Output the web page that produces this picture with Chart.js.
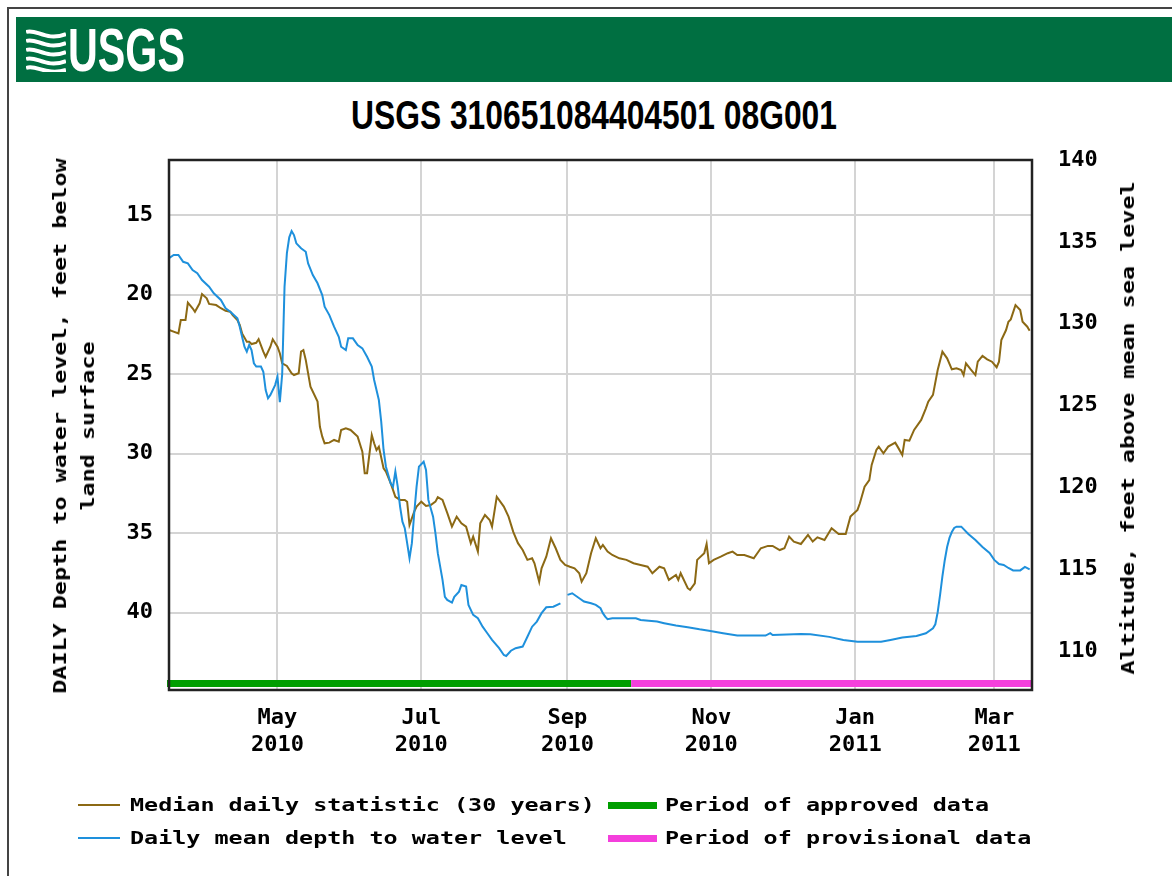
<!DOCTYPE html>
<html>
<head>
<meta charset="utf-8">
<script src="https://cdn.jsdelivr.net/npm/chart.js@4.4.1/dist/chart.umd.min.js"></script>
<style>
  body { margin: 0; background: #fff; width: 1172px; height: 876px; overflow: hidden; position: relative; }
  #frame { position: absolute; left: 7px; top: 7px; width: 1300px; height: 1000px; border-left: 2px solid #444; border-top: 2px solid #444; }
  #header { position: absolute; left: 16px; top: 17px; width: 1160px; height: 65px; background: #006f41; }
  #logoIcon { position: absolute; left: 26px; top: 28px; }
  #logoText { position: absolute; left: 68px; top: 20px; color: #fff; font: bold 61px/61px 'Liberation Sans', Arial, sans-serif; transform: scaleX(0.677); transform-origin: left top; white-space: nowrap; }
  #title { position: absolute; left: 8px; top: 95px; width: 1172px; text-align: center; font: bold 41px/41px 'Liberation Sans', Arial, sans-serif; transform: scaleX(0.775); transform-origin: center; white-space: nowrap; color: #000; }
  .mono { position: absolute; font: bold 18px/18px 'DejaVu Sans Mono', monospace; white-space: nowrap; color: #000; }
  .legText { transform: scaleX(1.3); transform-origin: left center; }
  .axisTitle { transform: translate(-50%, -50%) rotate(-90deg) scaleX(1.3); }
  .swatch { position: absolute; }
  #chart { position: absolute; left: 0; top: 0; }
</style>
</head>
<body>
<div id="frame"></div>
<div id="header"></div>
<svg id="logoIcon" width="40" height="44" viewBox="0 0 40 44">
  <path d="M0 4 C10 0, 20 14, 40 6" stroke="#fff" stroke-width="4" fill="none"/>
  <path d="M0 13 C10 9, 20 23, 40 15" stroke="#fff" stroke-width="4" fill="none"/>
  <path d="M0 22 C10 18, 20 32, 40 24" stroke="#fff" stroke-width="4" fill="none"/>
  <path d="M0 31 C10 27, 20 41, 40 33" stroke="#fff" stroke-width="4" fill="none"/>
  <path d="M0 40 C10 36, 20 48, 40 42" stroke="#fff" stroke-width="4" fill="none"/>
</svg>
<div id="logoText">USGS</div>
<div id="title">USGS 310651084404501 08G001</div>

<canvas id="chart" width="1172" height="876"></canvas>

<div class="mono axisTitle" style="left:60px;top:426px">DAILY Depth to water level, feet below</div>
<div class="mono axisTitle" style="left:88px;top:426px">land surface</div>
<div class="mono axisTitle" style="left:1128px;top:428px">Altitude, feet above mean sea level</div>

<div class="swatch" style="left:78px;top:804px;width:42px;height:2px;background:#8c6914"></div>
<div class="mono legText" style="left:130px;top:796px">Median daily statistic (30 years)</div>
<div class="swatch" style="left:78px;top:837px;width:42px;height:2px;background:#1e90dc"></div>
<div class="mono legText" style="left:130px;top:829px">Daily mean depth to water level</div>
<div class="swatch" style="left:608px;top:802px;width:49px;height:7px;background:#009e00"></div>
<div class="mono legText" style="left:665px;top:796px">Period of approved data</div>
<div class="swatch" style="left:608px;top:835px;width:49px;height:7px;background:#f43fdc"></div>
<div class="mono legText" style="left:665px;top:829px">Period of provisional data</div>

<script>
// x values are days counted from 16 Mar 2010
const monthDays = [46, 107, 169, 230, 291, 350];
const monthNames = ["May", "Jul", "Sep", "Nov", "Jan", "Mar"];
const monthYears = ["2010", "2010", "2010", "2010", "2011", "2011"];
const depthTicks = [15, 20, 25, 30, 35, 40];
const altitudeTicks = [110, 115, 120, 125, 130, 135, 140];

// median daily statistic (30 years), depth in feet
const medianDay = [0,4,5,7,8,10,11,13,14,16,17,20,22,24,26,27,29,30,31,33,34,35,37,38,40,41,43,44,46,47,48,50,52,53,55,56,57,58,59,60,
  63,64,65,66,68,70,72,73,75,77,80,82,83,84,86,87,88,89,91,92,94,95,96,98,100,101,102,104,105,107,109,111,113,114,116,118,120,122,124,126,
  128,129,131,132,134,136,137,139,142,144,146,148,150,152,154,155,157,158,160,162,164,166,168,170,172,174,175,177,179,181,183,184,186,188,
  191,194,197,200,203,205,208,210,212,215,216,217,220,221,223,224,227,228,229,231,234,237,239,241,244,248,251,254,256,259,261,263,265,268,
  271,273,275,278,281,284,287,289,292,293,295,297,298,300,301,303,305,308,309,311,312,314,316,319,321,322,324,326,328,330,332,334,336,337,
  338,340,342,343,345,347,349,351,352,353,355,356,357,359,361,362,364,365];
const medianDepth = [22.23,22.44,21.60,21.60,20.51,20.86,21.08,20.55,19.97,20.24,20.59,20.66,20.86,21.02,21.08,21.29,21.60,21.91,22.44,22.96,
  22.96,23.11,23.03,22.81,23.59,23.91,23.28,22.81,23.28,23.69,24.32,24.49,24.95,25.06,24.95,23.59,23.49,24.11,24.95,25.79,
  26.73,28.31,28.93,29.35,29.31,29.14,29.25,28.51,28.41,28.51,28.93,29.88,31.23,31.23,28.83,29.35,29.77,29.56,30.92,31.13,
  31.86,32.28,32.71,32.91,32.91,33.02,34.48,33.65,33.33,33.02,33.29,33.23,33.02,32.74,32.91,33.73,34.59,33.96,34.38,34.59,
  35.63,35.22,36.16,34.38,33.86,34.17,34.59,32.71,33.33,33.96,34.92,35.63,36.06,36.68,36.58,36.89,38.05,37.21,36.48,35.32,
  35.95,36.68,37.00,37.11,37.21,37.52,38.05,37.52,36.26,35.32,35.95,35.74,36.16,36.37,36.58,36.68,36.89,37.00,37.11,37.52,
  37.11,37.21,37.94,37.63,37.94,37.52,38.46,38.57,38.15,36.68,36.26,35.68,36.89,36.68,36.48,36.26,36.16,36.37,36.37,36.58,
  35.95,35.80,35.80,36.06,35.95,35.22,35.53,35.68,35.11,35.53,35.26,35.43,34.69,35.05,35.05,33.96,33.54,33.12,32.08,31.66,
  30.71,29.77,29.56,29.98,29.56,29.31,29.56,30.08,29.14,29.19,28.51,27.88,27.15,26.73,26.31,24.74,23.59,24.01,24.70,24.64,
  24.74,25.06,24.32,24.70,25.06,24.22,23.86,24.07,24.22,24.57,24.22,22.86,22.23,21.71,21.56,20.66,20.97,21.71,22.02,22.27];

// daily mean depth to water level (null = missing day)
const meanDay = [0,2,4,6,8,10,12,14,17,19,22,24,26,29,30,31,32,33,34,35,36,37,39,40,41,42,43,45,46,47,48,49,50,51,52,53,54,56,58,59,
  61,63,65,66,68,70,72,73,75,76,78,80,82,84,86,87,89,90,91,92,94,95,96,97,98,99,100,101,102,103,104,105,106,108,109,110,112,113,114,116,
  117,118,120,121,123,124,126,127,129,131,133,135,137,140,142,143,145,147,150,152,154,156,158,160,163,166,167,169,171,174,176,179,181,183,
  184,185,186,188,198,200,207,210,215,220,225,229,235,241,253,255,256,268,272,280,286,292,302,306,311,317,321,324,325,326,327,328,329,330,
  331,332,333,334,336,339,342,345,348,350,352,354,356,358,361,363,365];
const meanDepth = [17.72,17.51,17.51,17.94,18.04,18.46,18.66,19.09,19.51,19.92,20.34,20.86,21.08,21.49,22.02,22.65,23.28,23.59,23.17,23.49,
  24.32,24.53,24.53,24.85,26.00,26.52,26.31,25.69,25.16,26.77,25.00,19.50,17.40,16.40,16.01,16.26,16.78,17.09,17.31,18.04,
  18.77,19.29,20.03,20.76,21.29,22.02,22.65,23.28,23.49,22.75,22.75,23.17,23.38,23.91,24.53,25.37,26.63,27.99,29.77,30.82,
  31.86,32.08,31.13,32.08,33.33,34.28,34.69,35.63,36.58,35.63,33.75,32.08,30.82,30.51,31.03,32.91,33.96,35.01,36.26,37.94,
  39.00,39.20,39.37,39.00,38.68,38.26,38.36,39.51,40.14,40.35,40.88,41.29,41.71,42.23,42.66,42.72,42.39,42.23,42.13,41.51,
  40.88,40.56,40.03,39.66,39.62,39.41,null,38.88,38.78,39.09,39.30,39.41,39.51,39.72,
  40.03,40.25,40.41,40.35,40.35,40.46,40.56,40.66,40.81,40.91,41.04,41.13,41.29,41.44,41.44,41.29,41.40,41.34,41.36,41.52,
  41.71,41.82,41.82,41.71,41.56,41.46,41.29,40.98,40.73,39.97,38.90,37.71,36.70,35.87,
  35.30,34.93,34.67,34.59,34.59,35.05,35.43,35.87,36.25,36.68,36.94,37.00,37.19,37.34,37.34,37.12,37.27];

// data approval periods (days)
const approvedPeriod = [0, 196];
const provisionalPeriod = [196, 366];

const medianColor = "#8c6914";
const meanColor = "#1e90dc";
const approvedColor = "#009e00";
const provisionalColor = "#f43fdc";
const gridColor = "#d4d4d4";
const tickFont = { family: "'DejaVu Sans Mono', monospace", size: 22, weight: "bold", lineHeight: 1.23 };

function toPoints(xs, ys) {
  return xs.map((x, i) => ({ x: x, y: ys[i] }));
}

// approval bars along the bottom + plot frame
const periodBars = {
  id: "periodBars",
  afterDatasetsDraw(chart) {
    const { ctx, chartArea, scales } = chart;
    const y = chartArea.bottom - 6.5;
    ctx.save();
    ctx.lineWidth = 7;
    ctx.strokeStyle = approvedColor;
    ctx.beginPath();
    ctx.moveTo(scales.x.getPixelForValue(approvedPeriod[0]) - 2, y);
    ctx.lineTo(scales.x.getPixelForValue(approvedPeriod[1]), y);
    ctx.stroke();
    ctx.strokeStyle = provisionalColor;
    ctx.beginPath();
    ctx.moveTo(scales.x.getPixelForValue(provisionalPeriod[0]), y);
    ctx.lineTo(scales.x.getPixelForValue(provisionalPeriod[1]), y);
    ctx.stroke();
    ctx.lineWidth = 2.5;
    ctx.strokeStyle = "#222";
    ctx.strokeRect(chartArea.left, chartArea.top, chartArea.right - chartArea.left, chartArea.bottom - chartArea.top);
    ctx.restore();
  },
};

function createChart(element) {
  const ctx = document.getElementById(element);
  return new Chart(ctx, {
    type: "line",
    data: {
      datasets: [
        {
          label: "Daily mean depth to water level",
          data: toPoints(meanDay, meanDepth),
          borderColor: meanColor,
          borderWidth: 2,
          pointRadius: 0,
          tension: 0,
          spanGaps: false,
          yAxisID: "y",
        },
        {
          label: "Median daily statistic (30 years)",
          data: toPoints(medianDay, medianDepth),
          borderColor: medianColor,
          borderWidth: 2,
          pointRadius: 0,
          tension: 0,
          yAxisID: "y",
        },
      ],
    },
    options: {
      responsive: false,
      animation: false,
      layout: { padding: { top: 160, left: 0, right: 0, bottom: 0 } },
      plugins: { legend: { display: false }, tooltip: { enabled: false } },
      scales: {
        x: {
          type: "linear",
          position: "bottom",
          min: 0,
          max: 366,
          afterFit: (s) => { s.height = 186; },
          afterBuildTicks: (s) => { s.ticks = monthDays.map((v) => ({ value: v })); },
          grid: { color: gridColor, lineWidth: 2, drawTicks: false },
          border: { display: false },
          ticks: {
            font: tickFont,
            color: "#000",
            padding: 15,
            maxRotation: 0,
            autoSkip: false,
            callback: (v) => {
              const i = monthDays.indexOf(v);
              return i < 0 ? "" : [monthNames[i], monthYears[i]];
            },
          },
        },
        y: {
          position: "left",
          reverse: true,
          min: 11.54,
          max: 44.86,
          afterFit: (s) => { s.width = 169; },
          afterBuildTicks: (s) => { s.ticks = depthTicks.map((v) => ({ value: v })); },
          grid: { color: gridColor, lineWidth: 2, drawTicks: false },
          border: { display: false },
          ticks: { font: tickFont, color: "#000", padding: 16 },
        },
        y2: {
          position: "right",
          min: 107.62,
          max: 140,
          afterFit: (s) => { s.width = 140; },
          afterBuildTicks: (s) => { s.ticks = altitudeTicks.map((v) => ({ value: v })); },
          grid: { display: false, drawTicks: false },
          border: { display: false },
          ticks: { font: tickFont, color: "#000", padding: 26 },
        },
      },
    },
    plugins: [periodBars],
  });
}

const depthChart = createChart("chart");
</script>
</body>
</html>
